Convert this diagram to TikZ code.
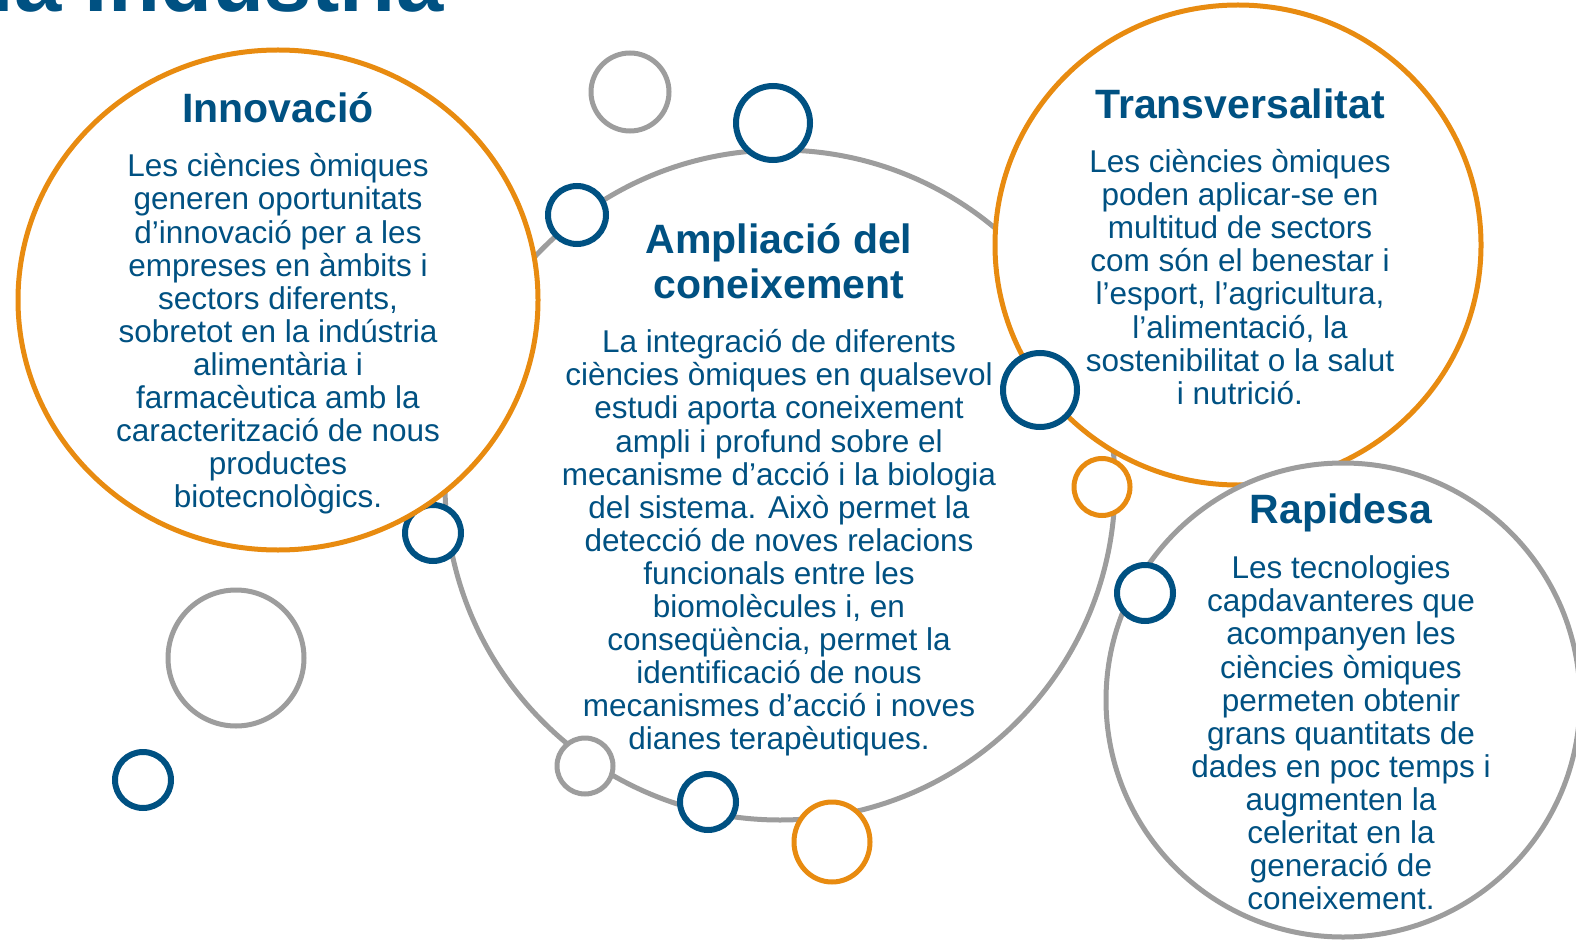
\documentclass[tikz,border=0pt]{standalone}
\usepackage{fontspec}
\setmainfont{Liberation Sans}
\usetikzlibrary{shapes.geometric}
\definecolor{dblue}{RGB}{0,81,130}
\definecolor{orng}{RGB}{232,139,16}
\definecolor{gry}{RGB}{157,157,157}
\begin{document}
\begin{tikzpicture}[x=1pt,y=-1pt,
  ring/.style={ellipse, draw, fill=white, inner sep=0pt, outer sep=0pt},
  bigring/.style={ring, line width=5pt},
  smallring/.style={ring, line width=6pt},
  ttl/.style={text=dblue, font=\fontsize{41}{45}\selectfont\bfseries, align=center, inner sep=0pt},
  body/.style={text=dblue, font=\fontsize{31.5}{33.1}\selectfont, align=center, inner sep=0pt},
]
\useasboundingbox (0,0) rectangle (1576,941);

% title (cut at top)
\node[text=dblue, font=\fontsize{85}{90}\selectfont\bfseries, anchor=base east, inner sep=0pt] (maintitle) at (444,12) {la indústria};

% central circle
\node[bigring, draw=gry, minimum width=670pt, minimum height=670pt] (ampl) at (780,485) {};

% small circles on the central ring
\node[smallring, draw=gry, line width=5pt, minimum width=78pt, minimum height=78pt] (g1) at (630,92) {};
\node[smallring, draw=dblue, minimum width=74pt, minimum height=74pt] (b1) at (773,123) {};
\node[smallring, draw=dblue, minimum width=58pt, minimum height=58pt] (b2) at (577,215) {};
\node[smallring, draw=orng, line width=5pt, minimum width=56pt, minimum height=57pt] (o1) at (1102,487) {};
\node[smallring, draw=dblue, minimum width=56pt, minimum height=56pt] (b5) at (433,533) {};
\node[smallring, draw=gry, line width=5pt, minimum width=136pt, minimum height=136pt] (g2) at (236,658) {};
\node[smallring, draw=dblue, minimum width=56pt, minimum height=56pt] (b6) at (143,780) {};
\node[smallring, draw=gry, line width=5pt, minimum width=56pt, minimum height=56pt] (g3) at (585,766) {};
\node[smallring, draw=dblue, minimum width=56pt, minimum height=56pt] (b7) at (708,802) {};
\node[smallring, draw=orng, line width=5pt, minimum width=76pt, minimum height=80pt] (o2) at (832,842) {};

% big circles
\node[bigring, draw=orng, minimum width=520pt, minimum height=500pt] (innov) at (278,300) {};
\node[bigring, draw=orng, minimum width=486pt, minimum height=480pt] (trans) at (1238,245) {};
\node[bigring, draw=gry, minimum width=474pt, minimum height=474pt] (rapid) at (1343,700) {};

\node[smallring, draw=dblue, minimum width=74pt, minimum height=74pt] (b3) at (1040,390) {};
\node[smallring, draw=dblue, minimum width=56pt, minimum height=56pt] (b4) at (1145,593) {};

% texts
\node[ttl] (t1) at (278,108) {Innovació};
\node[body] (x1) at (278,334) {Les ciències òmiques\\generen oportunitats\\d’innovació per a les\\empreses en àmbits i\\sectors diferents,\\sobretot en la indústria\\alimentària i\\farmacèutica amb la\\caracterització de nous\\productes\\biotecnològics.};

\node[ttl] (t2) at (779,261) {Ampliació del\\coneixement};
\node[body] (x2) at (779,543) {La integració de diferents\\ciències òmiques en qualsevol\\estudi aporta coneixement\\ampli i profund sobre el\\mecanisme d’acció i la biologia\\del sistema. Això permet la\\detecció de noves relacions\\funcionals entre les\\biomolècules i, en\\conseqüència, permet la\\identificació de nous\\mecanismes d’acció i noves\\dianes terapèutiques.};

\node[ttl] (t3) at (1240,104) {Transversalitat};
\node[body] (x3) at (1240,277) {Les ciències òmiques\\poden aplicar-se en\\multitud de sectors\\com són el benestar i\\l’esport, l’agricultura,\\l’alimentació, la\\sostenibilitat o la salut\\i nutrició.};

\node[ttl] (t4) at (1341,513) {Rapidesa};
\node[body] (x4) at (1341,733) {Les tecnologies\\capdavanteres que\\acompanyen les\\ciències òmiques\\permeten obtenir\\grans quantitats de\\dades en poc temps i\\augmenten la\\celeritat en la\\generació de\\coneixement.};
\end{tikzpicture}
\end{document}
